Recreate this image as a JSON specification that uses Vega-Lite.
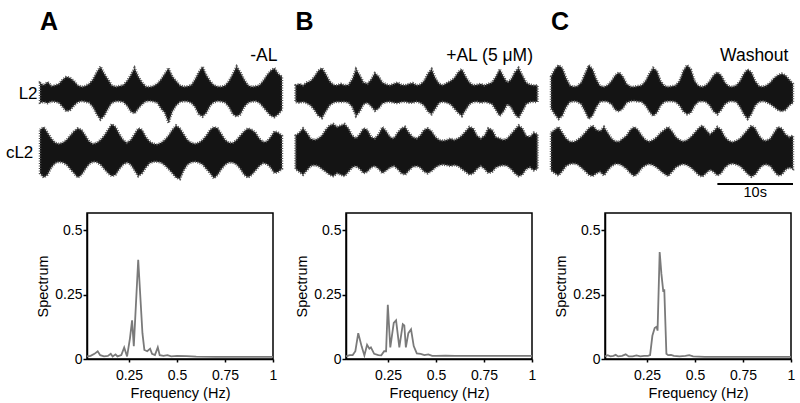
{
  "$schema": "https://vega.github.io/schema/vega-lite/v6.json",
  "padding": {"left": 5, "top": 10, "right": 5, "bottom": 2},
  "config": {
    "font": "Liberation Sans",
    "view": {"stroke": null},
    "axis": {"grid": false, "domainColor": "black", "domainWidth": 1.5, "tickColor": "black", "tickWidth": 1.5, "labelColor": "black", "titleColor": "black", "labelFontSize": 14, "titleFontSize": 14.5, "titleFontWeight": "normal", "labelFont": "Liberation Sans", "titleFont": "Liberation Sans"},
    "header": {"labelFont": "Liberation Sans", "labelColor": "black"}
  },
  "datasets": {
    "traces": [
      {"cond":"A","trace":"L2","t":0,"hi":0.38,"lo":-0.3},{"cond":"A","trace":"L2","t":0.5,"hi":0.3,"lo":-0.28},{"cond":"A","trace":"L2","t":1,"hi":0.42,"lo":-0.32},{"cond":"A","trace":"L2","t":1.5,"hi":0.28,"lo":-0.26},{"cond":"A","trace":"L2","t":2,"hi":0.3,"lo":-0.27},{"cond":"A","trace":"L2","t":2.5,"hi":0.35,"lo":-0.3},{"cond":"A","trace":"L2","t":3,"hi":0.5,"lo":-0.45},{"cond":"A","trace":"L2","t":3.5,"hi":0.6,"lo":-0.6},{"cond":"A","trace":"L2","t":4,"hi":0.55,"lo":-0.55},{"cond":"A","trace":"L2","t":4.5,"hi":0.45,"lo":-0.4},
      {"cond":"A","trace":"L2","t":5,"hi":0.3,"lo":-0.28},{"cond":"A","trace":"L2","t":5.5,"hi":0.25,"lo":-0.25},{"cond":"A","trace":"L2","t":6,"hi":0.28,"lo":-0.27},{"cond":"A","trace":"L2","t":6.5,"hi":0.35,"lo":-0.3},{"cond":"A","trace":"L2","t":7,"hi":0.5,"lo":-0.45},{"cond":"A","trace":"L2","t":7.5,"hi":0.75,"lo":-0.7},{"cond":"A","trace":"L2","t":8,"hi":0.95,"lo":-0.88},{"cond":"A","trace":"L2","t":8.5,"hi":0.7,"lo":-0.75},{"cond":"A","trace":"L2","t":9,"hi":0.5,"lo":-0.5},{"cond":"A","trace":"L2","t":9.5,"hi":0.3,"lo":-0.3},
      {"cond":"A","trace":"L2","t":10,"hi":0.25,"lo":-0.26},{"cond":"A","trace":"L2","t":10.5,"hi":0.28,"lo":-0.25},{"cond":"A","trace":"L2","t":11,"hi":0.3,"lo":-0.28},{"cond":"A","trace":"L2","t":11.5,"hi":0.45,"lo":-0.4},{"cond":"A","trace":"L2","t":12,"hi":0.65,"lo":-0.6},{"cond":"A","trace":"L2","t":12.5,"hi":0.9,"lo":-0.67},{"cond":"A","trace":"L2","t":13,"hi":0.6,"lo":-0.5},{"cond":"A","trace":"L2","t":13.5,"hi":0.4,"lo":-0.35},{"cond":"A","trace":"L2","t":14,"hi":0.26,"lo":-0.25},{"cond":"A","trace":"L2","t":14.5,"hi":0.24,"lo":-0.24},
      {"cond":"A","trace":"L2","t":15,"hi":0.28,"lo":-0.26},{"cond":"A","trace":"L2","t":15.5,"hi":0.35,"lo":-0.3},{"cond":"A","trace":"L2","t":16,"hi":0.5,"lo":-0.5},{"cond":"A","trace":"L2","t":16.5,"hi":0.7,"lo":-0.65},{"cond":"A","trace":"L2","t":17,"hi":0.9,"lo":-1.0},{"cond":"A","trace":"L2","t":17.5,"hi":0.6,"lo":-0.6},{"cond":"A","trace":"L2","t":18,"hi":0.45,"lo":-0.4},{"cond":"A","trace":"L2","t":18.5,"hi":0.3,"lo":-0.28},{"cond":"A","trace":"L2","t":19,"hi":0.25,"lo":-0.25},{"cond":"A","trace":"L2","t":19.5,"hi":0.27,"lo":-0.26},
      {"cond":"A","trace":"L2","t":20,"hi":0.3,"lo":-0.3},{"cond":"A","trace":"L2","t":20.5,"hi":0.5,"lo":-0.45},{"cond":"A","trace":"L2","t":21,"hi":0.75,"lo":-0.7},{"cond":"A","trace":"L2","t":21.5,"hi":0.95,"lo":-0.78},{"cond":"A","trace":"L2","t":22,"hi":0.65,"lo":-0.65},{"cond":"A","trace":"L2","t":22.5,"hi":0.45,"lo":-0.4},{"cond":"A","trace":"L2","t":23,"hi":0.3,"lo":-0.28},{"cond":"A","trace":"L2","t":23.5,"hi":0.26,"lo":-0.25},{"cond":"A","trace":"L2","t":24,"hi":0.25,"lo":-0.26},{"cond":"A","trace":"L2","t":24.5,"hi":0.3,"lo":-0.3},
      {"cond":"A","trace":"L2","t":25,"hi":0.45,"lo":-0.45},{"cond":"A","trace":"L2","t":25.5,"hi":0.7,"lo":-0.7},{"cond":"A","trace":"L2","t":26,"hi":0.95,"lo":-0.78},{"cond":"A","trace":"L2","t":26.5,"hi":0.75,"lo":-0.7},{"cond":"A","trace":"L2","t":27,"hi":0.5,"lo":-0.45},{"cond":"A","trace":"L2","t":27.5,"hi":0.3,"lo":-0.3},{"cond":"A","trace":"L2","t":28,"hi":0.25,"lo":-0.26},{"cond":"A","trace":"L2","t":28.5,"hi":0.27,"lo":-0.25},{"cond":"A","trace":"L2","t":29,"hi":0.3,"lo":-0.3},{"cond":"A","trace":"L2","t":29.5,"hi":0.45,"lo":-0.45},
      {"cond":"A","trace":"L2","t":30,"hi":0.65,"lo":-0.6},{"cond":"A","trace":"L2","t":30.5,"hi":0.8,"lo":-0.75},{"cond":"A","trace":"L2","t":31,"hi":0.9,"lo":-0.8},{"cond":"A","trace":"L2","t":31.5,"hi":0.7,"lo":-0.7},{"cond":"A","trace":"L2","t":32,"hi":0.6,"lo":-0.55},

      {"cond":"A","trace":"cL2","t":0,"hi":0.8,"lo":-0.7},{"cond":"A","trace":"cL2","t":0.5,"hi":0.9,"lo":-0.85},{"cond":"A","trace":"cL2","t":1,"hi":0.7,"lo":-0.75},{"cond":"A","trace":"cL2","t":1.5,"hi":0.5,"lo":-0.5},{"cond":"A","trace":"cL2","t":2,"hi":0.35,"lo":-0.35},{"cond":"A","trace":"cL2","t":2.5,"hi":0.32,"lo":-0.3},{"cond":"A","trace":"cL2","t":3,"hi":0.35,"lo":-0.33},{"cond":"A","trace":"cL2","t":3.5,"hi":0.45,"lo":-0.4},{"cond":"A","trace":"cL2","t":4,"hi":0.6,"lo":-0.55},{"cond":"A","trace":"cL2","t":4.5,"hi":0.75,"lo":-0.7},
      {"cond":"A","trace":"cL2","t":5,"hi":0.85,"lo":-0.85},{"cond":"A","trace":"cL2","t":5.5,"hi":0.8,"lo":-0.75},{"cond":"A","trace":"cL2","t":6,"hi":0.6,"lo":-0.55},{"cond":"A","trace":"cL2","t":6.5,"hi":0.4,"lo":-0.38},{"cond":"A","trace":"cL2","t":7,"hi":0.32,"lo":-0.3},{"cond":"A","trace":"cL2","t":7.5,"hi":0.35,"lo":-0.32},{"cond":"A","trace":"cL2","t":8,"hi":0.45,"lo":-0.4},{"cond":"A","trace":"cL2","t":8.5,"hi":0.6,"lo":-0.55},{"cond":"A","trace":"cL2","t":9,"hi":0.8,"lo":-0.7},{"cond":"A","trace":"cL2","t":9.5,"hi":1.0,"lo":-0.8},
      {"cond":"A","trace":"cL2","t":10,"hi":0.9,"lo":-0.75},{"cond":"A","trace":"cL2","t":10.5,"hi":0.65,"lo":-0.55},{"cond":"A","trace":"cL2","t":11,"hi":0.45,"lo":-0.4},{"cond":"A","trace":"cL2","t":11.5,"hi":0.35,"lo":-0.32},{"cond":"A","trace":"cL2","t":12,"hi":0.45,"lo":-0.4},{"cond":"A","trace":"cL2","t":12.5,"hi":0.65,"lo":-0.6},{"cond":"A","trace":"cL2","t":13,"hi":0.85,"lo":-0.8},{"cond":"A","trace":"cL2","t":13.5,"hi":0.8,"lo":-0.7},{"cond":"A","trace":"cL2","t":14,"hi":0.55,"lo":-0.5},{"cond":"A","trace":"cL2","t":14.5,"hi":0.4,"lo":-0.35},
      {"cond":"A","trace":"cL2","t":15,"hi":0.32,"lo":-0.3},{"cond":"A","trace":"cL2","t":15.5,"hi":0.3,"lo":-0.3},{"cond":"A","trace":"cL2","t":16,"hi":0.35,"lo":-0.33},{"cond":"A","trace":"cL2","t":16.5,"hi":0.45,"lo":-0.42},{"cond":"A","trace":"cL2","t":17,"hi":0.6,"lo":-0.55},{"cond":"A","trace":"cL2","t":17.5,"hi":0.8,"lo":-0.7},{"cond":"A","trace":"cL2","t":18,"hi":0.95,"lo":-0.85},{"cond":"A","trace":"cL2","t":18.5,"hi":0.85,"lo":-0.9},{"cond":"A","trace":"cL2","t":19,"hi":0.65,"lo":-0.6},{"cond":"A","trace":"cL2","t":19.5,"hi":0.45,"lo":-0.4},
      {"cond":"A","trace":"cL2","t":20,"hi":0.35,"lo":-0.32},{"cond":"A","trace":"cL2","t":20.5,"hi":0.32,"lo":-0.3},{"cond":"A","trace":"cL2","t":21,"hi":0.35,"lo":-0.33},{"cond":"A","trace":"cL2","t":21.5,"hi":0.45,"lo":-0.4},{"cond":"A","trace":"cL2","t":22,"hi":0.6,"lo":-0.55},{"cond":"A","trace":"cL2","t":22.5,"hi":0.8,"lo":-0.7},{"cond":"A","trace":"cL2","t":23,"hi":0.9,"lo":-0.88},{"cond":"A","trace":"cL2","t":23.5,"hi":0.85,"lo":-0.75},{"cond":"A","trace":"cL2","t":24,"hi":0.65,"lo":-0.55},{"cond":"A","trace":"cL2","t":24.5,"hi":0.45,"lo":-0.4},
      {"cond":"A","trace":"cL2","t":25,"hi":0.35,"lo":-0.32},{"cond":"A","trace":"cL2","t":25.5,"hi":0.35,"lo":-0.33},{"cond":"A","trace":"cL2","t":26,"hi":0.45,"lo":-0.4},{"cond":"A","trace":"cL2","t":26.5,"hi":0.6,"lo":-0.55},{"cond":"A","trace":"cL2","t":27,"hi":0.75,"lo":-0.75},{"cond":"A","trace":"cL2","t":27.5,"hi":0.85,"lo":-0.85},{"cond":"A","trace":"cL2","t":28,"hi":0.8,"lo":-0.75},{"cond":"A","trace":"cL2","t":28.5,"hi":0.7,"lo":-0.6},{"cond":"A","trace":"cL2","t":29,"hi":0.5,"lo":-0.45},{"cond":"A","trace":"cL2","t":29.5,"hi":0.38,"lo":-0.35},
      {"cond":"A","trace":"cL2","t":30,"hi":0.4,"lo":-0.38},{"cond":"A","trace":"cL2","t":30.5,"hi":0.55,"lo":-0.5},{"cond":"A","trace":"cL2","t":31,"hi":0.75,"lo":-0.7},{"cond":"A","trace":"cL2","t":31.5,"hi":0.7,"lo":-0.65},{"cond":"A","trace":"cL2","t":32,"hi":0.6,"lo":-0.55},

      {"cond":"B","trace":"L2","t":0,"hi":0.3,"lo":-0.28},{"cond":"B","trace":"L2","t":0.5,"hi":0.35,"lo":-0.3},{"cond":"B","trace":"L2","t":1,"hi":0.3,"lo":-0.27},{"cond":"B","trace":"L2","t":1.5,"hi":0.4,"lo":-0.32},{"cond":"B","trace":"L2","t":2,"hi":0.45,"lo":-0.4},{"cond":"B","trace":"L2","t":2.5,"hi":0.6,"lo":-0.55},{"cond":"B","trace":"L2","t":3,"hi":0.8,"lo":-0.75},{"cond":"B","trace":"L2","t":3.5,"hi":0.9,"lo":-0.83},{"cond":"B","trace":"L2","t":4,"hi":0.7,"lo":-0.6},{"cond":"B","trace":"L2","t":4.5,"hi":0.45,"lo":-0.4},
      {"cond":"B","trace":"L2","t":5,"hi":0.32,"lo":-0.3},{"cond":"B","trace":"L2","t":5.5,"hi":0.3,"lo":-0.27},{"cond":"B","trace":"L2","t":6,"hi":0.35,"lo":-0.28},{"cond":"B","trace":"L2","t":6.5,"hi":0.3,"lo":-0.27},{"cond":"B","trace":"L2","t":7,"hi":0.32,"lo":-0.3},{"cond":"B","trace":"L2","t":7.5,"hi":0.5,"lo":-0.45},{"cond":"B","trace":"L2","t":8,"hi":0.86,"lo":-0.76},{"cond":"B","trace":"L2","t":8.5,"hi":0.65,"lo":-0.6},{"cond":"B","trace":"L2","t":9,"hi":0.4,"lo":-0.35},{"cond":"B","trace":"L2","t":9.5,"hi":0.35,"lo":-0.3},
      {"cond":"B","trace":"L2","t":10,"hi":0.5,"lo":-0.42},{"cond":"B","trace":"L2","t":10.5,"hi":0.72,"lo":-0.58},{"cond":"B","trace":"L2","t":11,"hi":0.6,"lo":-0.5},{"cond":"B","trace":"L2","t":11.5,"hi":0.4,"lo":-0.33},{"cond":"B","trace":"L2","t":12,"hi":0.33,"lo":-0.28},{"cond":"B","trace":"L2","t":12.5,"hi":0.3,"lo":-0.27},{"cond":"B","trace":"L2","t":13,"hi":0.35,"lo":-0.3},{"cond":"B","trace":"L2","t":13.5,"hi":0.4,"lo":-0.32},{"cond":"B","trace":"L2","t":14,"hi":0.32,"lo":-0.28},{"cond":"B","trace":"L2","t":14.5,"hi":0.3,"lo":-0.27},
      {"cond":"B","trace":"L2","t":15,"hi":0.35,"lo":-0.3},{"cond":"B","trace":"L2","t":15.5,"hi":0.38,"lo":-0.3},{"cond":"B","trace":"L2","t":16,"hi":0.3,"lo":-0.27},{"cond":"B","trace":"L2","t":16.5,"hi":0.33,"lo":-0.3},{"cond":"B","trace":"L2","t":17,"hi":0.45,"lo":-0.4},{"cond":"B","trace":"L2","t":17.5,"hi":0.7,"lo":-0.6},{"cond":"B","trace":"L2","t":18,"hi":0.86,"lo":-0.7},{"cond":"B","trace":"L2","t":18.5,"hi":0.55,"lo":-0.5},{"cond":"B","trace":"L2","t":19,"hi":0.35,"lo":-0.3},{"cond":"B","trace":"L2","t":19.5,"hi":0.3,"lo":-0.27},
      {"cond":"B","trace":"L2","t":20,"hi":0.38,"lo":-0.3},{"cond":"B","trace":"L2","t":20.5,"hi":0.45,"lo":-0.35},{"cond":"B","trace":"L2","t":21,"hi":0.55,"lo":-0.5},{"cond":"B","trace":"L2","t":21.5,"hi":0.75,"lo":-0.65},{"cond":"B","trace":"L2","t":22,"hi":0.86,"lo":-0.76},{"cond":"B","trace":"L2","t":22.5,"hi":0.6,"lo":-0.55},{"cond":"B","trace":"L2","t":23,"hi":0.4,"lo":-0.35},{"cond":"B","trace":"L2","t":23.5,"hi":0.3,"lo":-0.28},{"cond":"B","trace":"L2","t":24,"hi":0.32,"lo":-0.27},{"cond":"B","trace":"L2","t":24.5,"hi":0.35,"lo":-0.3},
      {"cond":"B","trace":"L2","t":25,"hi":0.3,"lo":-0.28},{"cond":"B","trace":"L2","t":25.5,"hi":0.35,"lo":-0.3},{"cond":"B","trace":"L2","t":26,"hi":0.4,"lo":-0.35},{"cond":"B","trace":"L2","t":26.5,"hi":0.6,"lo":-0.55},{"cond":"B","trace":"L2","t":27,"hi":0.86,"lo":-0.76},{"cond":"B","trace":"L2","t":27.5,"hi":0.6,"lo":-0.6},{"cond":"B","trace":"L2","t":28,"hi":0.4,"lo":-0.35},{"cond":"B","trace":"L2","t":28.5,"hi":0.5,"lo":-0.45},{"cond":"B","trace":"L2","t":29,"hi":0.75,"lo":-0.7},{"cond":"B","trace":"L2","t":29.5,"hi":0.9,"lo":-0.83},
      {"cond":"B","trace":"L2","t":30,"hi":0.65,"lo":-0.6},{"cond":"B","trace":"L2","t":30.5,"hi":0.4,"lo":-0.35},{"cond":"B","trace":"L2","t":31,"hi":0.32,"lo":-0.28},{"cond":"B","trace":"L2","t":31.5,"hi":0.3,"lo":-0.27},{"cond":"B","trace":"L2","t":32,"hi":0.3,"lo":-0.28},

      {"cond":"B","trace":"cL2","t":0,"hi":0.6,"lo":-0.55},{"cond":"B","trace":"cL2","t":0.5,"hi":0.7,"lo":-0.65},{"cond":"B","trace":"cL2","t":1,"hi":0.85,"lo":-0.75},{"cond":"B","trace":"cL2","t":1.5,"hi":0.7,"lo":-0.6},{"cond":"B","trace":"cL2","t":2,"hi":0.5,"lo":-0.45},{"cond":"B","trace":"cL2","t":2.5,"hi":0.45,"lo":-0.42},{"cond":"B","trace":"cL2","t":3,"hi":0.5,"lo":-0.45},{"cond":"B","trace":"cL2","t":3.5,"hi":0.6,"lo":-0.55},{"cond":"B","trace":"cL2","t":4,"hi":0.8,"lo":-0.65},{"cond":"B","trace":"cL2","t":4.5,"hi":0.95,"lo":-0.75},
      {"cond":"B","trace":"cL2","t":5,"hi":1.0,"lo":-0.8},{"cond":"B","trace":"cL2","t":5.5,"hi":0.9,"lo":-0.7},{"cond":"B","trace":"cL2","t":6,"hi":0.95,"lo":-0.75},{"cond":"B","trace":"cL2","t":6.5,"hi":1.0,"lo":-0.8},{"cond":"B","trace":"cL2","t":7,"hi":0.85,"lo":-0.65},{"cond":"B","trace":"cL2","t":7.5,"hi":0.6,"lo":-0.5},{"cond":"B","trace":"cL2","t":8,"hi":0.5,"lo":-0.45},{"cond":"B","trace":"cL2","t":8.5,"hi":0.65,"lo":-0.55},{"cond":"B","trace":"cL2","t":9,"hi":0.85,"lo":-0.7},{"cond":"B","trace":"cL2","t":9.5,"hi":0.8,"lo":-0.65},
      {"cond":"B","trace":"cL2","t":10,"hi":0.55,"lo":-0.5},{"cond":"B","trace":"cL2","t":10.5,"hi":0.5,"lo":-0.45},{"cond":"B","trace":"cL2","t":11,"hi":0.65,"lo":-0.55},{"cond":"B","trace":"cL2","t":11.5,"hi":0.9,"lo":-0.7},{"cond":"B","trace":"cL2","t":12,"hi":0.75,"lo":-0.6},{"cond":"B","trace":"cL2","t":12.5,"hi":0.55,"lo":-0.5},{"cond":"B","trace":"cL2","t":13,"hi":0.5,"lo":-0.45},{"cond":"B","trace":"cL2","t":13.5,"hi":0.7,"lo":-0.55},{"cond":"B","trace":"cL2","t":14,"hi":0.85,"lo":-0.7},{"cond":"B","trace":"cL2","t":14.5,"hi":0.9,"lo":-0.75},
      {"cond":"B","trace":"cL2","t":15,"hi":0.7,"lo":-0.6},{"cond":"B","trace":"cL2","t":15.5,"hi":0.55,"lo":-0.48},{"cond":"B","trace":"cL2","t":16,"hi":0.5,"lo":-0.45},{"cond":"B","trace":"cL2","t":16.5,"hi":0.6,"lo":-0.5},{"cond":"B","trace":"cL2","t":17,"hi":0.8,"lo":-0.65},{"cond":"B","trace":"cL2","t":17.5,"hi":0.85,"lo":-0.7},{"cond":"B","trace":"cL2","t":18,"hi":0.75,"lo":-0.62},{"cond":"B","trace":"cL2","t":18.5,"hi":0.55,"lo":-0.5},{"cond":"B","trace":"cL2","t":19,"hi":0.45,"lo":-0.42},{"cond":"B","trace":"cL2","t":19.5,"hi":0.42,"lo":-0.4},
      {"cond":"B","trace":"cL2","t":20,"hi":0.45,"lo":-0.42},{"cond":"B","trace":"cL2","t":20.5,"hi":0.5,"lo":-0.45},{"cond":"B","trace":"cL2","t":21,"hi":0.45,"lo":-0.42},{"cond":"B","trace":"cL2","t":21.5,"hi":0.5,"lo":-0.45},{"cond":"B","trace":"cL2","t":22,"hi":0.6,"lo":-0.55},{"cond":"B","trace":"cL2","t":22.5,"hi":0.75,"lo":-0.65},{"cond":"B","trace":"cL2","t":23,"hi":0.9,"lo":-0.75},{"cond":"B","trace":"cL2","t":23.5,"hi":0.85,"lo":-0.7},{"cond":"B","trace":"cL2","t":24,"hi":0.6,"lo":-0.55},{"cond":"B","trace":"cL2","t":24.5,"hi":0.5,"lo":-0.45},
      {"cond":"B","trace":"cL2","t":25,"hi":0.6,"lo":-0.55},{"cond":"B","trace":"cL2","t":25.5,"hi":0.85,"lo":-0.7},{"cond":"B","trace":"cL2","t":26,"hi":0.8,"lo":-0.65},{"cond":"B","trace":"cL2","t":26.5,"hi":0.55,"lo":-0.5},{"cond":"B","trace":"cL2","t":27,"hi":0.5,"lo":-0.45},{"cond":"B","trace":"cL2","t":27.5,"hi":0.45,"lo":-0.42},{"cond":"B","trace":"cL2","t":28,"hi":0.5,"lo":-0.45},{"cond":"B","trace":"cL2","t":28.5,"hi":0.65,"lo":-0.55},{"cond":"B","trace":"cL2","t":29,"hi":0.8,"lo":-0.7},{"cond":"B","trace":"cL2","t":29.5,"hi":0.95,"lo":-0.8},
      {"cond":"B","trace":"cL2","t":30,"hi":0.85,"lo":-0.75},{"cond":"B","trace":"cL2","t":30.5,"hi":0.6,"lo":-0.55},{"cond":"B","trace":"cL2","t":31,"hi":0.55,"lo":-0.5},{"cond":"B","trace":"cL2","t":31.5,"hi":0.7,"lo":-0.6},{"cond":"B","trace":"cL2","t":32,"hi":0.65,"lo":-0.55},

      {"cond":"C","trace":"L2","t":0,"hi":0.6,"lo":-0.5},{"cond":"C","trace":"L2","t":0.5,"hi":0.85,"lo":-0.7},{"cond":"C","trace":"L2","t":1,"hi":1.0,"lo":-0.86},{"cond":"C","trace":"L2","t":1.5,"hi":0.9,"lo":-0.75},{"cond":"C","trace":"L2","t":2,"hi":0.55,"lo":-0.45},{"cond":"C","trace":"L2","t":2.5,"hi":0.3,"lo":-0.28},{"cond":"C","trace":"L2","t":3,"hi":0.25,"lo":-0.25},{"cond":"C","trace":"L2","t":3.5,"hi":0.28,"lo":-0.27},{"cond":"C","trace":"L2","t":4,"hi":0.4,"lo":-0.35},{"cond":"C","trace":"L2","t":4.5,"hi":0.7,"lo":-0.6},
      {"cond":"C","trace":"L2","t":5,"hi":1.0,"lo":-0.86},{"cond":"C","trace":"L2","t":5.5,"hi":0.85,"lo":-0.75},{"cond":"C","trace":"L2","t":6,"hi":0.5,"lo":-0.45},{"cond":"C","trace":"L2","t":6.5,"hi":0.28,"lo":-0.27},{"cond":"C","trace":"L2","t":7,"hi":0.25,"lo":-0.25},{"cond":"C","trace":"L2","t":7.5,"hi":0.3,"lo":-0.27},{"cond":"C","trace":"L2","t":8,"hi":0.45,"lo":-0.35},{"cond":"C","trace":"L2","t":8.5,"hi":0.65,"lo":-0.55},{"cond":"C","trace":"L2","t":9,"hi":0.75,"lo":-0.6},{"cond":"C","trace":"L2","t":9.5,"hi":0.6,"lo":-0.5},
      {"cond":"C","trace":"L2","t":10,"hi":0.35,"lo":-0.3},{"cond":"C","trace":"L2","t":10.5,"hi":0.26,"lo":-0.25},{"cond":"C","trace":"L2","t":11,"hi":0.25,"lo":-0.24},{"cond":"C","trace":"L2","t":11.5,"hi":0.28,"lo":-0.26},{"cond":"C","trace":"L2","t":12,"hi":0.3,"lo":-0.28},{"cond":"C","trace":"L2","t":12.5,"hi":0.45,"lo":-0.4},{"cond":"C","trace":"L2","t":13,"hi":0.7,"lo":-0.6},{"cond":"C","trace":"L2","t":13.5,"hi":0.9,"lo":-0.76},{"cond":"C","trace":"L2","t":14,"hi":0.8,"lo":-0.65},{"cond":"C","trace":"L2","t":14.5,"hi":0.45,"lo":-0.4},
      {"cond":"C","trace":"L2","t":15,"hi":0.28,"lo":-0.27},{"cond":"C","trace":"L2","t":15.5,"hi":0.25,"lo":-0.25},{"cond":"C","trace":"L2","t":16,"hi":0.27,"lo":-0.25},{"cond":"C","trace":"L2","t":16.5,"hi":0.3,"lo":-0.28},{"cond":"C","trace":"L2","t":17,"hi":0.45,"lo":-0.4},{"cond":"C","trace":"L2","t":17.5,"hi":0.8,"lo":-0.6},{"cond":"C","trace":"L2","t":18,"hi":1.0,"lo":-0.7},{"cond":"C","trace":"L2","t":18.5,"hi":0.85,"lo":-0.65},{"cond":"C","trace":"L2","t":19,"hi":0.45,"lo":-0.4},{"cond":"C","trace":"L2","t":19.5,"hi":0.28,"lo":-0.27},
      {"cond":"C","trace":"L2","t":20,"hi":0.25,"lo":-0.25},{"cond":"C","trace":"L2","t":20.5,"hi":0.3,"lo":-0.28},{"cond":"C","trace":"L2","t":21,"hi":0.45,"lo":-0.4},{"cond":"C","trace":"L2","t":21.5,"hi":0.65,"lo":-0.6},{"cond":"C","trace":"L2","t":22,"hi":0.75,"lo":-0.7},{"cond":"C","trace":"L2","t":22.5,"hi":0.65,"lo":-0.55},{"cond":"C","trace":"L2","t":23,"hi":0.4,"lo":-0.35},{"cond":"C","trace":"L2","t":23.5,"hi":0.27,"lo":-0.26},{"cond":"C","trace":"L2","t":24,"hi":0.25,"lo":-0.25},{"cond":"C","trace":"L2","t":24.5,"hi":0.3,"lo":-0.28},
      {"cond":"C","trace":"L2","t":25,"hi":0.45,"lo":-0.45},{"cond":"C","trace":"L2","t":25.5,"hi":0.7,"lo":-0.7},{"cond":"C","trace":"L2","t":26,"hi":0.85,"lo":-0.86},{"cond":"C","trace":"L2","t":26.5,"hi":0.75,"lo":-0.7},{"cond":"C","trace":"L2","t":27,"hi":0.45,"lo":-0.4},{"cond":"C","trace":"L2","t":27.5,"hi":0.28,"lo":-0.27},{"cond":"C","trace":"L2","t":28,"hi":0.25,"lo":-0.25},{"cond":"C","trace":"L2","t":28.5,"hi":0.3,"lo":-0.28},{"cond":"C","trace":"L2","t":29,"hi":0.4,"lo":-0.35},{"cond":"C","trace":"L2","t":29.5,"hi":0.55,"lo":-0.45},
      {"cond":"C","trace":"L2","t":30,"hi":0.65,"lo":-0.55},{"cond":"C","trace":"L2","t":30.5,"hi":0.7,"lo":-0.6},{"cond":"C","trace":"L2","t":31,"hi":0.65,"lo":-0.55},{"cond":"C","trace":"L2","t":31.5,"hi":0.5,"lo":-0.4},{"cond":"C","trace":"L2","t":32,"hi":0.35,"lo":-0.3},

      {"cond":"C","trace":"cL2","t":0,"hi":0.7,"lo":-0.6},{"cond":"C","trace":"cL2","t":0.5,"hi":0.8,"lo":-0.7},{"cond":"C","trace":"cL2","t":1,"hi":0.9,"lo":-0.78},{"cond":"C","trace":"cL2","t":1.5,"hi":0.7,"lo":-0.62},{"cond":"C","trace":"cL2","t":2,"hi":0.5,"lo":-0.45},{"cond":"C","trace":"cL2","t":2.5,"hi":0.4,"lo":-0.38},{"cond":"C","trace":"cL2","t":3,"hi":0.38,"lo":-0.36},{"cond":"C","trace":"cL2","t":3.5,"hi":0.45,"lo":-0.4},{"cond":"C","trace":"cL2","t":4,"hi":0.55,"lo":-0.5},{"cond":"C","trace":"cL2","t":4.5,"hi":0.7,"lo":-0.62},
      {"cond":"C","trace":"cL2","t":5,"hi":0.85,"lo":-0.75},{"cond":"C","trace":"cL2","t":5.5,"hi":0.95,"lo":-0.8},{"cond":"C","trace":"cL2","t":6,"hi":0.8,"lo":-0.7},{"cond":"C","trace":"cL2","t":6.5,"hi":0.75,"lo":-0.65},{"cond":"C","trace":"cL2","t":7,"hi":0.9,"lo":-0.78},{"cond":"C","trace":"cL2","t":7.5,"hi":0.7,"lo":-0.6},{"cond":"C","trace":"cL2","t":8,"hi":0.5,"lo":-0.45},{"cond":"C","trace":"cL2","t":8.5,"hi":0.4,"lo":-0.38},{"cond":"C","trace":"cL2","t":9,"hi":0.4,"lo":-0.38},{"cond":"C","trace":"cL2","t":9.5,"hi":0.5,"lo":-0.45},
      {"cond":"C","trace":"cL2","t":10,"hi":0.6,"lo":-0.55},{"cond":"C","trace":"cL2","t":10.5,"hi":0.8,"lo":-0.7},{"cond":"C","trace":"cL2","t":11,"hi":0.9,"lo":-0.8},{"cond":"C","trace":"cL2","t":11.5,"hi":0.8,"lo":-0.7},{"cond":"C","trace":"cL2","t":12,"hi":0.6,"lo":-0.52},{"cond":"C","trace":"cL2","t":12.5,"hi":0.45,"lo":-0.42},{"cond":"C","trace":"cL2","t":13,"hi":0.4,"lo":-0.38},{"cond":"C","trace":"cL2","t":13.5,"hi":0.45,"lo":-0.42},{"cond":"C","trace":"cL2","t":14,"hi":0.55,"lo":-0.5},{"cond":"C","trace":"cL2","t":14.5,"hi":0.7,"lo":-0.62},
      {"cond":"C","trace":"cL2","t":15,"hi":0.8,"lo":-0.72},{"cond":"C","trace":"cL2","t":15.5,"hi":0.9,"lo":-0.8},{"cond":"C","trace":"cL2","t":16,"hi":0.75,"lo":-0.65},{"cond":"C","trace":"cL2","t":16.5,"hi":0.55,"lo":-0.5},{"cond":"C","trace":"cL2","t":17,"hi":0.45,"lo":-0.42},{"cond":"C","trace":"cL2","t":17.5,"hi":0.4,"lo":-0.38},{"cond":"C","trace":"cL2","t":18,"hi":0.45,"lo":-0.42},{"cond":"C","trace":"cL2","t":18.5,"hi":0.55,"lo":-0.5},{"cond":"C","trace":"cL2","t":19,"hi":0.7,"lo":-0.62},{"cond":"C","trace":"cL2","t":19.5,"hi":0.85,"lo":-0.75},
      {"cond":"C","trace":"cL2","t":20,"hi":0.95,"lo":-0.82},{"cond":"C","trace":"cL2","t":20.5,"hi":0.8,"lo":-0.7},{"cond":"C","trace":"cL2","t":21,"hi":0.65,"lo":-0.58},{"cond":"C","trace":"cL2","t":21.5,"hi":0.75,"lo":-0.65},{"cond":"C","trace":"cL2","t":22,"hi":0.9,"lo":-0.78},{"cond":"C","trace":"cL2","t":22.5,"hi":0.8,"lo":-0.7},{"cond":"C","trace":"cL2","t":23,"hi":0.55,"lo":-0.5},{"cond":"C","trace":"cL2","t":23.5,"hi":0.42,"lo":-0.4},{"cond":"C","trace":"cL2","t":24,"hi":0.38,"lo":-0.36},{"cond":"C","trace":"cL2","t":24.5,"hi":0.42,"lo":-0.4},
      {"cond":"C","trace":"cL2","t":25,"hi":0.5,"lo":-0.45},{"cond":"C","trace":"cL2","t":25.5,"hi":0.65,"lo":-0.58},{"cond":"C","trace":"cL2","t":26,"hi":0.8,"lo":-0.72},{"cond":"C","trace":"cL2","t":26.5,"hi":0.95,"lo":-0.82},{"cond":"C","trace":"cL2","t":27,"hi":0.85,"lo":-0.75},{"cond":"C","trace":"cL2","t":27.5,"hi":0.6,"lo":-0.55},{"cond":"C","trace":"cL2","t":28,"hi":0.45,"lo":-0.42},{"cond":"C","trace":"cL2","t":28.5,"hi":0.42,"lo":-0.4},{"cond":"C","trace":"cL2","t":29,"hi":0.5,"lo":-0.45},{"cond":"C","trace":"cL2","t":29.5,"hi":0.7,"lo":-0.62},
      {"cond":"C","trace":"cL2","t":30,"hi":0.9,"lo":-0.78},{"cond":"C","trace":"cL2","t":30.5,"hi":0.85,"lo":-0.75},{"cond":"C","trace":"cL2","t":31,"hi":0.65,"lo":-0.58},{"cond":"C","trace":"cL2","t":31.5,"hi":0.55,"lo":-0.5},{"cond":"C","trace":"cL2","t":32,"hi":0.6,"lo":-0.55},

      {"cond":"A","trace":"L2","label":"-AL"},
      {"cond":"B","trace":"L2","label":"+AL (5 μM)"},
      {"cond":"C","trace":"L2","label":"Washout"},
      {"cond":"C","trace":"cL2","bar":"10s"}
    ],
    "spectra": [
      {"cond":"A","f":0.031,"s":0.01},{"cond":"A","f":0.05,"s":0.012},{"cond":"A","f":0.07,"s":0.02},{"cond":"A","f":0.087,"s":0.03},{"cond":"A","f":0.1,"s":0.015},{"cond":"A","f":0.12,"s":0.01},{"cond":"A","f":0.14,"s":0.012},{"cond":"A","f":0.155,"s":0.02},{"cond":"A","f":0.165,"s":0.01},{"cond":"A","f":0.18,"s":0.018},{"cond":"A","f":0.19,"s":0.01},{"cond":"A","f":0.21,"s":0.015},{"cond":"A","f":0.225,"s":0.045},{"cond":"A","f":0.24,"s":0.01},{"cond":"A","f":0.255,"s":0.08},{"cond":"A","f":0.266,"s":0.15},{"cond":"A","f":0.275,"s":0.05},{"cond":"A","f":0.298,"s":0.385},{"cond":"A","f":0.32,"s":0.1},{"cond":"A","f":0.33,"s":0.035},{"cond":"A","f":0.345,"s":0.03},{"cond":"A","f":0.36,"s":0.04},{"cond":"A","f":0.37,"s":0.02},{"cond":"A","f":0.385,"s":0.015},{"cond":"A","f":0.4,"s":0.045},{"cond":"A","f":0.41,"s":0.015},{"cond":"A","f":0.43,"s":0.012},{"cond":"A","f":0.45,"s":0.015},{"cond":"A","f":0.47,"s":0.01},{"cond":"A","f":0.5,"s":0.012},{"cond":"A","f":0.55,"s":0.011},{"cond":"A","f":0.6,"s":0.009},{"cond":"A","f":0.7,"s":0.008},{"cond":"A","f":0.8,"s":0.008},{"cond":"A","f":0.9,"s":0.008},{"cond":"A","f":1.0,"s":0.008},
      {"cond":"B","f":0.031,"s":0.01},{"cond":"B","f":0.05,"s":0.015},{"cond":"B","f":0.066,"s":0.015},{"cond":"B","f":0.08,"s":0.03},{"cond":"B","f":0.095,"s":0.1},{"cond":"B","f":0.113,"s":0.048},{"cond":"B","f":0.127,"s":0.014},{"cond":"B","f":0.141,"s":0.055},{"cond":"B","f":0.153,"s":0.04},{"cond":"B","f":0.161,"s":0.045},{"cond":"B","f":0.178,"s":0.02},{"cond":"B","f":0.2,"s":0.015},{"cond":"B","f":0.215,"s":0.014},{"cond":"B","f":0.23,"s":0.03},{"cond":"B","f":0.24,"s":0.03},{"cond":"B","f":0.249,"s":0.21},{"cond":"B","f":0.262,"s":0.045},{"cond":"B","f":0.28,"s":0.14},{"cond":"B","f":0.292,"s":0.15},{"cond":"B","f":0.309,"s":0.045},{"cond":"B","f":0.327,"s":0.135},{"cond":"B","f":0.335,"s":0.13},{"cond":"B","f":0.343,"s":0.045},{"cond":"B","f":0.356,"s":0.1},{"cond":"B","f":0.37,"s":0.115},{"cond":"B","f":0.384,"s":0.05},{"cond":"B","f":0.4,"s":0.022},{"cond":"B","f":0.42,"s":0.02},{"cond":"B","f":0.44,"s":0.015},{"cond":"B","f":0.46,"s":0.018},{"cond":"B","f":0.48,"s":0.012},{"cond":"B","f":0.5,"s":0.012},{"cond":"B","f":0.55,"s":0.013},{"cond":"B","f":0.6,"s":0.012},{"cond":"B","f":0.7,"s":0.012},{"cond":"B","f":0.8,"s":0.012},{"cond":"B","f":0.9,"s":0.012},{"cond":"B","f":1.0,"s":0.012},
      {"cond":"C","f":0.031,"s":0.01},{"cond":"C","f":0.045,"s":0.015},{"cond":"C","f":0.06,"s":0.01},{"cond":"C","f":0.075,"s":0.012},{"cond":"C","f":0.087,"s":0.016},{"cond":"C","f":0.1,"s":0.01},{"cond":"C","f":0.12,"s":0.012},{"cond":"C","f":0.139,"s":0.018},{"cond":"C","f":0.155,"s":0.01},{"cond":"C","f":0.175,"s":0.01},{"cond":"C","f":0.195,"s":0.014},{"cond":"C","f":0.215,"s":0.01},{"cond":"C","f":0.235,"s":0.012},{"cond":"C","f":0.255,"s":0.012},{"cond":"C","f":0.266,"s":0.015},{"cond":"C","f":0.278,"s":0.09},{"cond":"C","f":0.29,"s":0.12},{"cond":"C","f":0.3,"s":0.125},{"cond":"C","f":0.305,"s":0.11},{"cond":"C","f":0.316,"s":0.415},{"cond":"C","f":0.325,"s":0.33},{"cond":"C","f":0.335,"s":0.26},{"cond":"C","f":0.34,"s":0.27},{"cond":"C","f":0.351,"s":0.02},{"cond":"C","f":0.36,"s":0.015},{"cond":"C","f":0.375,"s":0.016},{"cond":"C","f":0.39,"s":0.012},{"cond":"C","f":0.42,"s":0.01},{"cond":"C","f":0.45,"s":0.012},{"cond":"C","f":0.47,"s":0.015},{"cond":"C","f":0.49,"s":0.01},{"cond":"C","f":0.55,"s":0.008},{"cond":"C","f":0.7,"s":0.008},{"cond":"C","f":0.85,"s":0.008},{"cond":"C","f":1.0,"s":0.008}
    ]
  },
  "vconcat": [
    {
      "data": {"name": "traces"},
      "facet": {
        "row": {"field": "trace", "type": "nominal", "sort": ["L2", "cL2"],
          "header": {"title": null, "labelAngle": 0, "labelOrient": "left", "labelAlign": "center", "labelBaseline": "middle", "labelFontSize": 17, "labelPadding": -7}},
        "column": {"field": "cond", "type": "nominal",
          "header": {"title": null, "labelFontSize": 25, "labelFontWeight": "bold", "labelAnchor": "start", "labelAlign": "left", "labelOrient": "top", "labelPadding": 30}}
      },
      "spacing": {"row": 1, "column": 13.5},
      "bounds": "flush",
      "spec": {
        "width": 242,
        "height": 58,
        "layer": [
          {
            "transform": [{"filter": "isValid(datum.hi)"}],
            "mark": {"type": "area", "color": "#141414", "interpolate": "linear", "stroke": "#555555", "strokeWidth": 2.5, "strokeDash": [1, 1.5]},
            "encoding": {
              "x": {"field": "t", "type": "quantitative", "scale": {"domain": [0, 32], "nice": false, "zero": false}, "axis": null},
              "y": {"field": "hi", "type": "quantitative", "scale": {"domain": [-1, 1], "nice": false, "zero": false}, "axis": null},
              "y2": {"field": "lo"}
            }
          },
          {
            "transform": [{"filter": "isValid(datum.label)"}],
            "mark": {"type": "text", "align": "right", "baseline": "alphabetic", "fontSize": 17.5, "color": "black"},
            "encoding": {
              "x": {"datum": 31.4, "type": "quantitative", "scale": {"domain": [0, 32], "nice": false, "zero": false}},
              "y": {"datum": 1.15, "type": "quantitative", "scale": {"domain": [-1, 1], "nice": false, "zero": false}},
              "text": {"field": "label"}
            }
          },
          {
            "transform": [{"filter": "isValid(datum.bar)"}],
            "mark": {"type": "rule", "strokeWidth": 2, "color": "black"},
            "encoding": {
              "x": {"datum": 22, "type": "quantitative", "scale": {"domain": [0, 32], "nice": false, "zero": false}},
              "x2": {"datum": 32},
              "y": {"datum": -1.07, "type": "quantitative", "scale": {"domain": [-1, 1], "nice": false, "zero": false}}
            }
          },
          {
            "transform": [{"filter": "isValid(datum.bar)"}],
            "mark": {"type": "text", "align": "center", "baseline": "middle", "fontSize": 14.5, "color": "black"},
            "encoding": {
              "x": {"datum": 27, "type": "quantitative", "scale": {"domain": [0, 32], "nice": false, "zero": false}},
              "y": {"datum": -1.38, "type": "quantitative", "scale": {"domain": [-1, 1], "nice": false, "zero": false}},
              "text": {"field": "bar"}
            }
          }
        ]
      }
    },
    {
      "hconcat": [
        {
          "width": 1,
          "height": 146,
          "data": {"values": []},
          "mark": {"type": "point", "opacity": 0},
          "encoding": {}
        },
        {
          "data": {"name": "spectra"},
          "facet": {"column": {"field": "cond", "type": "nominal", "header": {"labels": false, "title": null}}},
          "spacing": 73,
          "bounds": "flush",
          "resolve": {"axis": {"y": "independent"}},
          "spec": {
            "width": 186,
            "height": 146,
            "view": {"stroke": "black", "strokeWidth": 1.5},
            "mark": {"type": "line", "color": "#7a7a7a", "strokeWidth": 1.8},
            "encoding": {
              "x": {"field": "f", "type": "quantitative", "scale": {"domain": [0.03125, 1], "nice": false, "zero": false},
                "axis": {"values": [0.25, 0.5, 0.75, 1], "format": ".2~f", "title": "Frequency (Hz)", "tickSize": 3, "labelPadding": 6, "titlePadding": 4, "labelFlush": false}},
              "y": {"field": "s", "type": "quantitative", "scale": {"domain": [0, 0.566], "nice": false, "zero": false},
                "axis": {"values": [0, 0.25, 0.5], "format": ".2~f", "title": "Spectrum", "tickSize": 4, "labelPadding": 1, "titlePadding": 4, "labelFlush": false}}
            }
          }
        }
      ],
      "spacing": -6
    }
  ],
  "spacing": 12
}
